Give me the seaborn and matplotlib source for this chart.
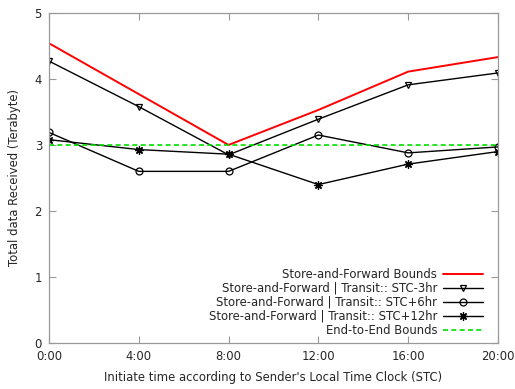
import matplotlib
matplotlib.use("Agg")
import matplotlib.pyplot as plt
import seaborn as sns
import pandas as pd

hours = [0, 4, 8, 12, 16, 20]
tick_labels = ["0:00", "4:00", "8:00", "12:00", "16:00", "20:00"]
sf_bounds = [4.54, 3.77, 3.0, 3.53, 4.11, 4.33]
stc_m3 = [4.27, 3.58, 2.85, 3.39, 3.91, 4.09]
stc_p6 = [3.19, 2.60, 2.60, 3.15, 2.88, 2.97]
stc_p12 = [3.08, 2.93, 2.86, 2.40, 2.71, 2.90]
e2e_bounds = [3.0, 3.0, 3.0, 3.0, 3.0, 3.0]

sns.set_style("white")
plt.rcParams['font.family'] = ['DejaVu Sans']

fig = plt.figure(figsize=(5.15, 3.89), dpi=100)
ax = fig.add_axes([0.095, 0.118, 0.872, 0.849])

fs = 8.4
sns.lineplot(x=hours, y=sf_bounds, ax=ax, color="red", lw=1.4,
             label="Store-and-Forward Bounds")
sns.lineplot(x=hours, y=stc_m3, ax=ax, color="black", lw=1.0, marker="v",
             markersize=5, markerfacecolor="none", markeredgecolor="black",
             markeredgewidth=0.9, label="Store-and-Forward | Transit:: STC-3hr")
sns.lineplot(x=hours, y=stc_p6, ax=ax, color="black", lw=1.0, marker="o",
             markersize=5, markerfacecolor="none", markeredgecolor="black",
             markeredgewidth=0.9, label="Store-and-Forward | Transit:: STC+6hr")
sns.lineplot(x=hours, y=stc_p12, ax=ax, color="black", lw=1.0, marker=(8, 2, 0),
             markersize=6, markeredgecolor="black", markeredgewidth=0.9,
             label="Store-and-Forward | Transit:: STC+12hr")
sns.lineplot(x=hours, y=e2e_bounds, ax=ax, color="#00dd00", lw=1.2,
             linestyle=(0, (3, 2)), label="End-to-End Bounds")

ax.set_xlim(0, 20)
ax.set_ylim(0, 5)
ax.set_xticks(hours)
ax.set_xticklabels(tick_labels, fontsize=fs)
ax.set_yticks([0, 1, 2, 3, 4, 5])
ax.set_yticklabels(["0", "1", "2", "3", "4", "5"], fontsize=fs)
ax.tick_params(direction="in", length=5, width=0.8, color="#999999",
               top=True, right=True, bottom=True, left=True, pad=5)
for s in ax.spines.values():
    s.set_color("#999999")
    s.set_linewidth(0.9)
ax.set_xlabel("Initiate time according to Sender's Local Time Clock (STC)",
              fontsize=fs, labelpad=6)
ax.set_ylabel("Total data Received (Terabyte)", fontsize=fs, labelpad=10)

leg = ax.legend(loc="lower right", bbox_to_anchor=(0.98, 0.0),
                frameon=False, fontsize=fs, markerfirst=False,
                handlelength=3.4, labelspacing=0.08, borderaxespad=0.25,
                handletextpad=0.5, borderpad=0.3)
for t in leg.get_texts():
    t.set_ha("right")
leg._legend_box.align = "right"

fig.savefig("out.png", dpi=100)
